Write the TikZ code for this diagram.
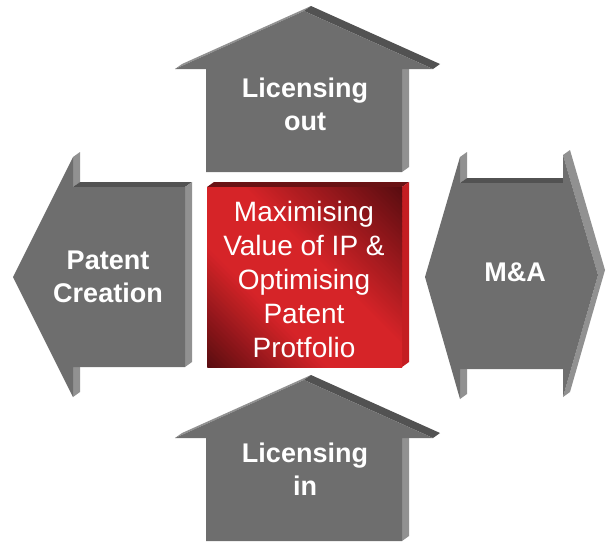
\documentclass[tikz,border=0pt]{standalone}
\usepackage{fontspec}
\setmainfont{Liberation Sans}
\usetikzlibrary{calc}

\definecolor{grayfront}{RGB}{110,110,110}
\definecolor{grayside}{RGB}{145,145,145}
\definecolor{graytop}{RGB}{82,82,82}
\definecolor{reddark}{RGB}{88,12,16}
\definecolor{redlight}{RGB}{214,36,40}
\definecolor{redtop}{RGB}{105,18,20}
\definecolor{redside}{RGB}{196,30,34}

\tikzset{
  lbl/.style={text=white, font=\fontsize{27}{33}\selectfont\bfseries, align=center, inner sep=0pt},
  ctext/.style={text=white, font=\fontsize{28}{34}\selectfont, align=center, inner sep=0pt}
}

% house shaped up arrow, shifted down by #1
\newcommand{\housearrow}[1]{%
  \begin{scope}[shift={(0,#1)}]
    \fill[grayside] (175,69) -- (175+\dx,69-\dy) -- (304+\dx,11-\dy) -- (304,11) -- cycle;
    \fill[graytop] (304,11) -- (304+\dx,11-\dy) -- (433+\dx,69-\dy) -- (433,69) -- cycle;
    \fill[grayside] (402,69) -- (402+\dx,69-\dy) -- (402+\dx,172-\dy) -- (402,172) -- cycle;
    \fill[grayfront] (175,69) -- (304,11) -- (433,69) -- (402,69) -- (402,172) -- (206,172) -- (206,69) -- cycle;
  \end{scope}}

\begin{document}
\begin{tikzpicture}[x=1pt,y=-1pt]
  %%%%% START %%%%%
  \def\dx{7}
  \def\dy{5}
  \useasboundingbox (0,0) rectangle (612,544);

  % licensing out / licensing in
  \housearrow{0}
  \housearrow{369}

  % patent creation
  \fill[grayside] (73,157) -- (73+\dx,157-\dy) -- (73+\dx,187-\dy) -- (73,187) -- cycle;
  \fill[graytop] (73,187) -- (73+\dx,187-\dy) -- (185+\dx,187-\dy) -- (185,187) -- cycle;
  \fill[grayside] (185,187) -- (185+\dx,187-\dy) -- (185+\dx,367-\dy) -- (185,367) -- cycle;
  \fill[grayside] (73,367) -- (73+\dx,367-\dy) -- (73+\dx,397-\dy) -- (73,397) -- cycle;
  \fill[grayfront] (13,277) -- (73,157) -- (73,187) -- (185,187) -- (185,367) -- (73,367) -- (73,397) -- cycle;

  % m&a
  \fill[grayside] (460,157) -- (460+\dx,157-\dy) -- (460+\dx,183-\dy) -- (460,183) -- cycle;
  \fill[graytop] (460,183) -- (460+\dx,183-\dy) -- (563+\dx,183-\dy) -- (563,183) -- cycle;
  \fill[grayside] (563,155) -- (563+\dx,155-\dy) -- (598+\dx,275-\dy) -- (563+\dx,397-\dy) -- (563,397) -- (598,275) -- cycle;
  \fill[grayside] (460,369) -- (460+\dx,369-\dy) -- (460+\dx,399-\dy) -- (460,399) -- cycle;
  \fill[grayfront] (425,277) -- (460,157) -- (460,183) -- (563,183) -- (563,155) -- (598,275) -- (563,397) -- (563,369) -- (460,369) -- (460,399) -- cycle;

  % centre block
  \fill[redtop] (207,187) -- (207+\dx,187-\dy) -- (402+\dx,187-\dy) -- (402,187) -- cycle;
  \fill[redside] (402,187) -- (402+\dx,187-\dy) -- (402+\dx,367-\dy) -- (402,367) -- cycle;
  \begin{scope}
    \clip (207,187) rectangle (402,367);
    \foreach \i in {0,...,75}{
      \pgfmathsetmacro\qq{(\i+0.5)/75}
      \pgfmathsetmacro\bright{100*max(0,min(1,\qq/0.32,(1-\qq)/0.42))}
      \fill[redlight!\bright!reddark] (150,310-\i*5) -- (460,620-\i*5) -- (460,614-\i*5) -- (150,304-\i*5) -- cycle;
    }
  \end{scope}

  \node[lbl] (lout) at (305,104) {Licensing\\out};
  \node[lbl] (lin) at (305,469) {Licensing\\in};
  \node[lbl] (pcreat) at (108,277) {Patent\\Creation};
  \node[lbl] (manda) at (515,272) {M\&A};
  \node[ctext] (ipvalue) at (304,279) {Maximising\\Value of IP \&\\Optimising\\Patent\\Protfolio};
  %%%%% END %%%%%
\end{tikzpicture}
\end{document}
